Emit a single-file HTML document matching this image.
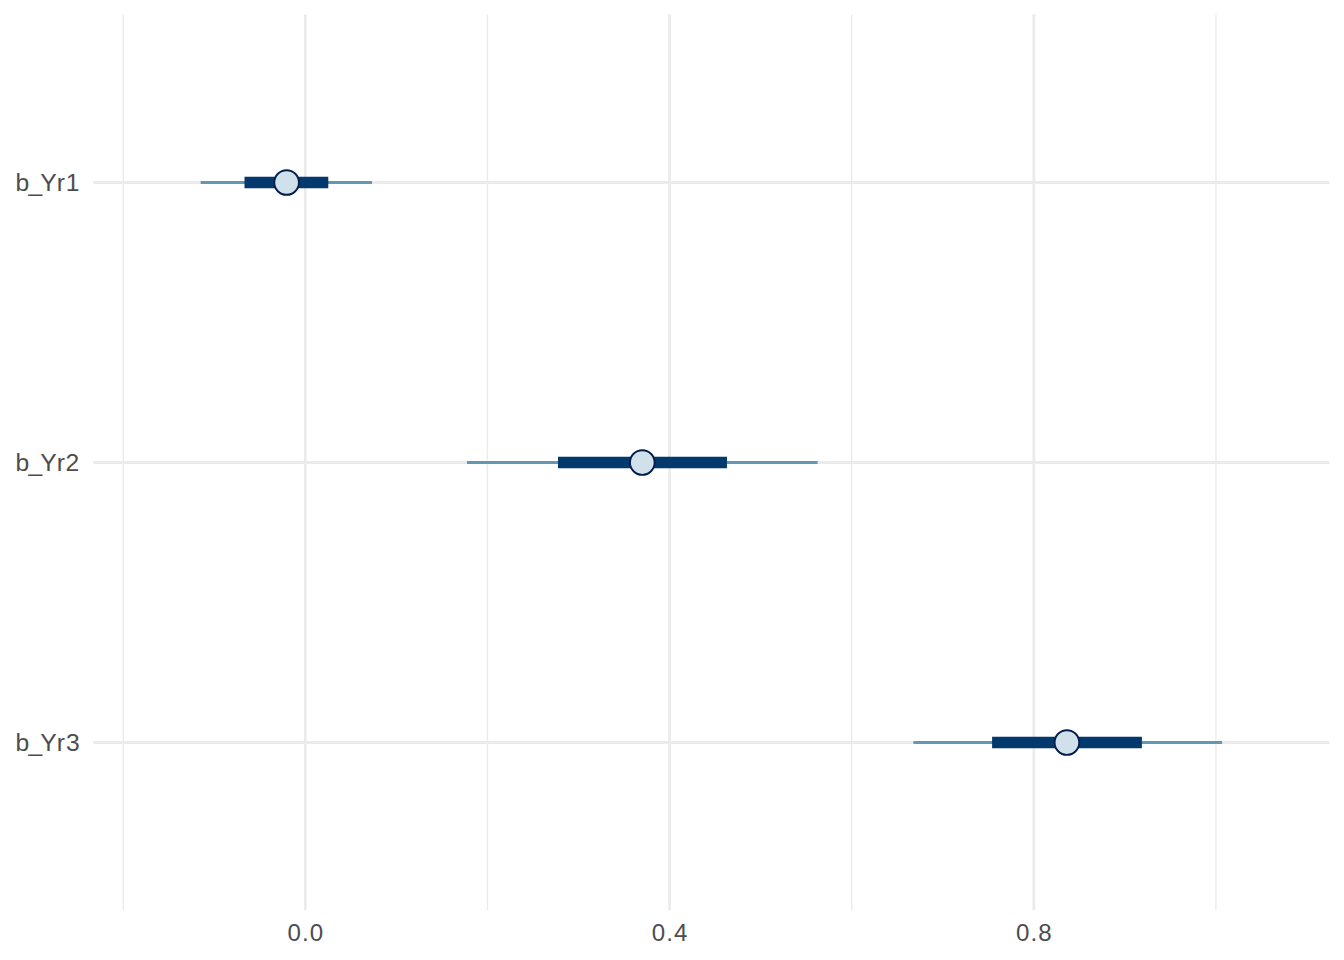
<!DOCTYPE html>
<html><head><meta charset="utf-8"><style>
html,body{margin:0;padding:0;background:#fff;width:1344px;height:960px;overflow:hidden}
svg{display:block}
text{font-family:"Liberation Sans",sans-serif;fill:#4D4D4D}
</style></head><body>
<svg width="1344" height="960" viewBox="0 0 1344 960">
<rect x="0" y="0" width="1344" height="960" fill="#fff"/>
<line x1="123.21" y1="14.5" x2="123.21" y2="910.3" stroke="#EBEBEB" stroke-width="1.42"/>
<line x1="487.45" y1="14.5" x2="487.45" y2="910.3" stroke="#EBEBEB" stroke-width="1.42"/>
<line x1="851.70" y1="14.5" x2="851.70" y2="910.3" stroke="#EBEBEB" stroke-width="1.42"/>
<line x1="1215.94" y1="14.5" x2="1215.94" y2="910.3" stroke="#EBEBEB" stroke-width="1.42"/>
<line x1="305.33" y1="14.5" x2="305.33" y2="910.3" stroke="#EBEBEB" stroke-width="2.845"/>
<line x1="669.57" y1="14.5" x2="669.57" y2="910.3" stroke="#EBEBEB" stroke-width="2.845"/>
<line x1="1033.82" y1="14.5" x2="1033.82" y2="910.3" stroke="#EBEBEB" stroke-width="2.845"/>
<line x1="93.42" y1="182.5" x2="1329.33" y2="182.5" stroke="#EBEBEB" stroke-width="2.845"/>
<line x1="93.42" y1="462.5" x2="1329.33" y2="462.5" stroke="#EBEBEB" stroke-width="2.845"/>
<line x1="93.42" y1="742.5" x2="1329.33" y2="742.5" stroke="#EBEBEB" stroke-width="2.845"/>
<line x1="200.67" y1="182.5" x2="372.05" y2="182.5" stroke="#6497b1" stroke-width="2.845"/>
<line x1="244.5" y1="182.5" x2="328.3" y2="182.5" stroke="#03396c" stroke-width="11.38"/>
<circle cx="286.6" cy="182.5" r="12.32" fill="#d1e1ec" stroke="#011f4b" stroke-width="1.89"/>
<line x1="466.96" y1="462.5" x2="817.6" y2="462.5" stroke="#6497b1" stroke-width="2.845"/>
<line x1="558.0" y1="462.5" x2="726.96" y2="462.5" stroke="#03396c" stroke-width="11.38"/>
<circle cx="642.3" cy="462.5" r="12.32" fill="#d1e1ec" stroke="#011f4b" stroke-width="1.89"/>
<line x1="913.4" y1="742.5" x2="1222.08" y2="742.5" stroke="#6497b1" stroke-width="2.845"/>
<line x1="992.1" y1="742.5" x2="1141.9" y2="742.5" stroke="#03396c" stroke-width="11.38"/>
<circle cx="1066.9" cy="742.5" r="12.32" fill="#d1e1ec" stroke="#011f4b" stroke-width="1.89"/>
<text x="15.40 28.62 40.24 56.80 65.75" y="190.90" font-size="24.7">b_Yr1</text>
<text x="15.40 28.62 40.24 56.80 65.57" y="470.90" font-size="24.7">b_Yr2</text>
<text x="15.40 28.62 40.24 56.80 65.91" y="750.90" font-size="24.7">b_Yr3</text>
<text x="287.43 301.97 309.82" y="941" font-size="24.1">0.0</text>
<text x="651.67 666.21 674.06" y="941" font-size="24.1">0.4</text>
<text x="1015.92 1030.46 1038.31" y="941" font-size="24.1">0.8</text>
</svg>
</body></html>
